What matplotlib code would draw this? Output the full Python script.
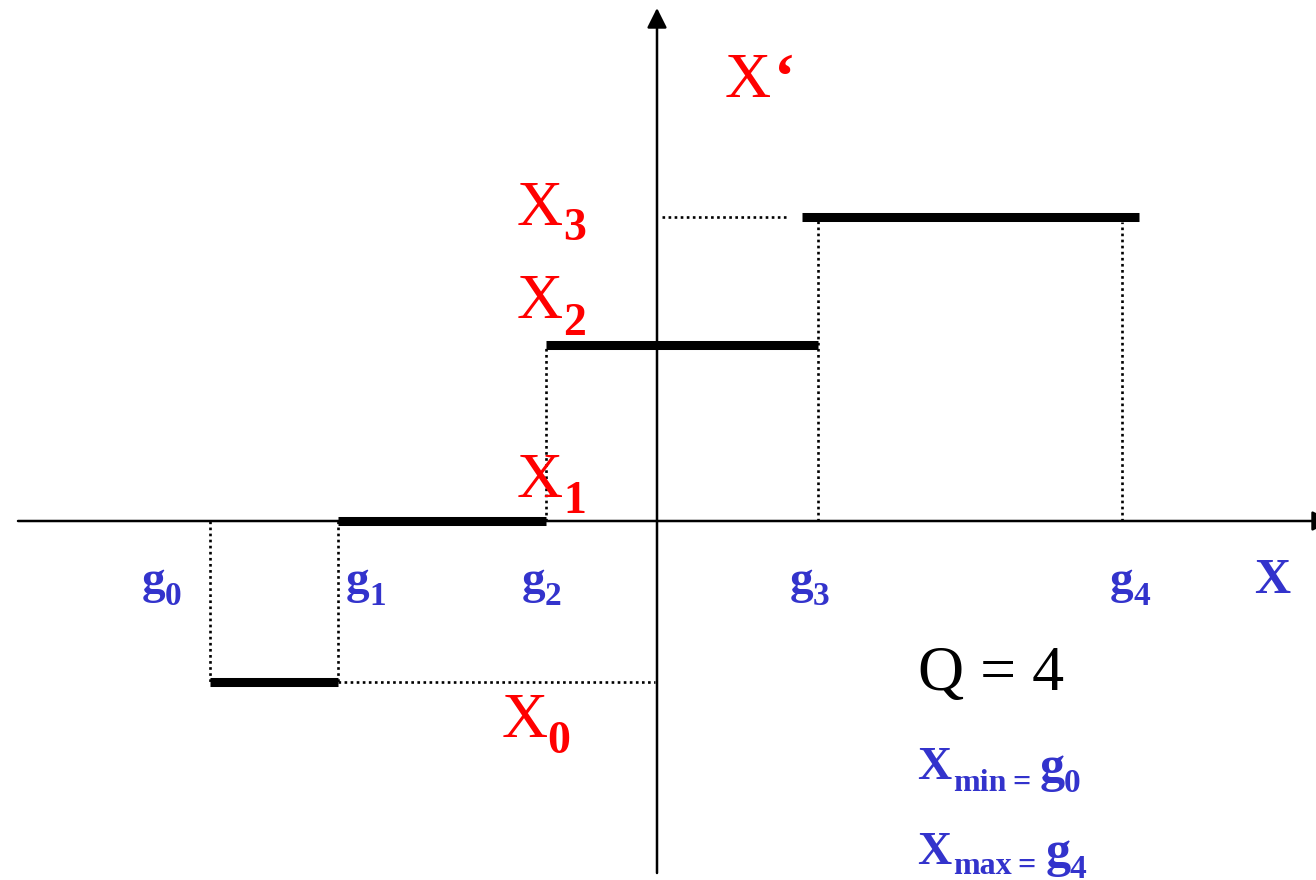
import matplotlib
matplotlib.use("Agg")
import matplotlib.pyplot as plt

# ---- data (origin at the axis crossing) ----
g_bounds = [-447, -319, -111, 161, 465]          # decision levels g0..g4
x_levels = [-161, 0, 176, 304]                   # output levels X0..X3
seg_start = [-447, -319, -111, 145]              # drawn extent of each step
seg_end = [-319, -111, 161, 482]
g_labels = ["0", "1", "2", "3", "4"]
x_labels = ["0", "1", "2", "3"]

RED = "#FF0000"
BLUE = "#3333CC"
FONT = "Liberation Serif"

fig = plt.figure(figsize=(13.16, 8.8), dpi=100)
ax = fig.add_axes([0, 0, 1, 1])
ax.set_xlim(-657, 659)
ax.set_ylim(-359, 521)
ax.axis("off")


def P(px, py):
    return px - 657, 521 - py


# axes with arrows
ax.annotate("", xy=(675, 0), xytext=(-639, 0), annotation_clip=False,
            arrowprops=dict(arrowstyle="-|>", mutation_scale=30, lw=1.8,
                            color="black", shrinkA=0, shrinkB=0))
ax.annotate("", xy=(0, 513), xytext=(0, -352), annotation_clip=False,
            arrowprops=dict(arrowstyle="-|>", mutation_scale=30, lw=1.8,
                            color="black", shrinkA=0, shrinkB=0))

dot = dict(color="black", lw=1.9, linestyle=(0, (1, 1.3)))
# dotted helper lines
ax.plot([g_bounds[0], g_bounds[0]], [0, x_levels[0]], **dot)
ax.plot([g_bounds[1], g_bounds[1]], [0, x_levels[0]], **dot)
ax.plot([g_bounds[1], -2], [x_levels[0], x_levels[0]], **dot)
ax.plot([g_bounds[2], g_bounds[2]], [0, x_levels[2]], **dot)
ax.plot([g_bounds[3], g_bounds[3]], [0, x_levels[3]], **dot)
ax.plot([g_bounds[4], g_bounds[4]], [0, x_levels[3] - 5], **dot)
ax.plot([5, 130], [x_levels[3], x_levels[3]], **dot)

# thick quantizer steps
for s, e, lev in zip(seg_start, seg_end, x_levels):
    ax.plot([s, e], [lev, lev], color="black", lw=6.5, solid_capstyle="butt")


def txt(px, py, s, size, color, weight="normal"):
    x, y = P(px, py)
    ax.text(x, y, s, fontsize=size, color=color, fontweight=weight,
            family=FONT, ha="left", va="baseline")


# red output-level labels
txt(725, 97, "X", 46, RED)
txt(774, 97, "\u2018", 46, RED, "bold")
red_pos = [(502, 737, 547, 753), (517, 497, 563, 513),
           (517, 318, 563, 335), (517, 225, 563, 240)]
for (xx, xb, sx, sb), lab in zip(red_pos, x_labels):
    txt(xx, xb, "X", 46, RED)
    txt(sx, sb, lab, 33, RED, "bold")

# blue decision labels
g_pos = [142, 346, 522, 790, 1110]
for gx, lab in zip(g_pos, g_labels):
    txt(gx, 593, "g", 34, BLUE, "bold")
    txt(gx + 23, 605, lab, 24, BLUE, "bold")
txt(1254, 593, "X", 36, BLUE, "bold")

# annotations
txt(918, 690, "Q = 4", 46, "black")
txt(917, 779, "X", 34, BLUE, "bold")
txt(953, 791, "min", 23, BLUE, "bold")
txt(1012, 791, "=", 23, BLUE, "bold")
txt(1040, 781, "g", 36, BLUE, "bold")
txt(1064, 792, "0", 24, BLUE, "bold")
txt(917, 864, "X", 34, BLUE, "bold")
txt(953, 874, "max", 23, BLUE, "bold")
txt(1017, 874, "=", 23, BLUE, "bold")
txt(1046, 866, "g", 36, BLUE, "bold")
txt(1070, 878, "4", 24, BLUE, "bold")

fig.savefig("out.png", dpi=100)
